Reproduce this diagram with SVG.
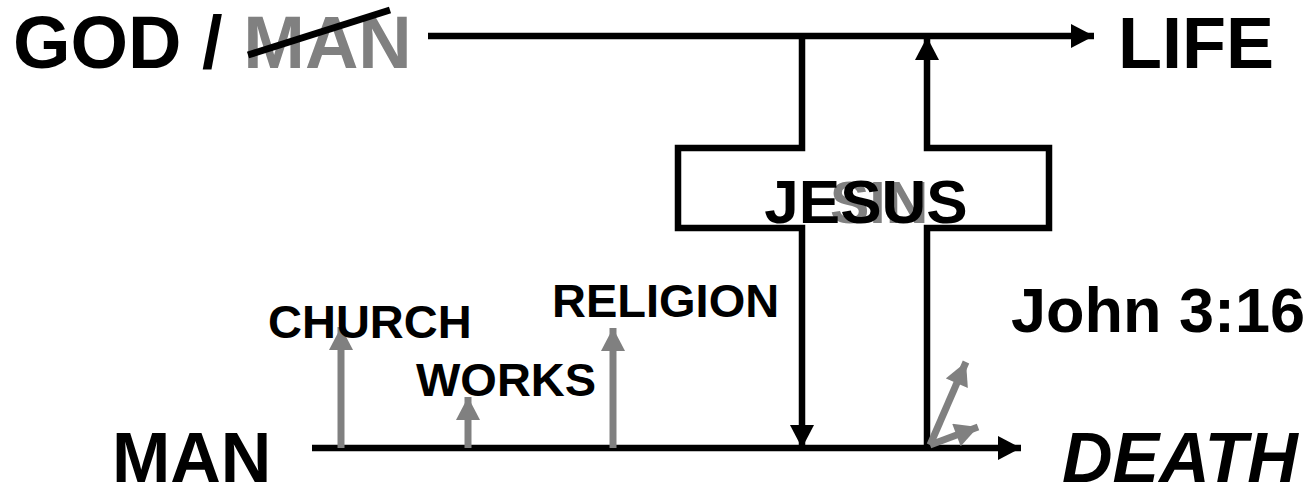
<svg xmlns="http://www.w3.org/2000/svg" width="1316" height="488" viewBox="0 0 1316 488">
<style>
.t{font-family:"Liberation Sans",Arial,sans-serif;font-weight:bold;fill:#000}
.g{fill:#808080}
.blk{stroke:#000;stroke-width:6.5;fill:none;stroke-linejoin:miter;stroke-linecap:butt}
.gry{stroke:#808080;stroke-width:7;fill:none}
</style>
<defs>
<marker id="ab" markerUnits="userSpaceOnUse" markerWidth="24" markerHeight="24" viewBox="0 0 23 24" refX="23" refY="12" orient="auto">
<path d="M0,0 L23,12 L0,24 Z" fill="#000"/>
</marker>
<marker id="ag" markerUnits="userSpaceOnUse" markerWidth="24" markerHeight="24" viewBox="0 0 23 24" refX="23" refY="12" orient="auto">
<path d="M0,0 L23,12 L0,24 Z" fill="#808080"/>
</marker>
</defs>
<rect width="1316" height="488" fill="#fff"/>
<g id="connectors">
<line class="blk" x1="428" y1="36" x2="1094" y2="36" marker-end="url(#ab)"/>
<line class="blk" x1="312" y1="448" x2="1021" y2="448" marker-end="url(#ab)"/>
<path id="cross-left" class="blk" d="M802,36 V148 H678 V228 H802 V448" marker-end="url(#ab)"/>
<path id="cross-right" class="blk" d="M927,448 V228 H1049 V148 H927 V37" marker-end="url(#ab)"/>
<line class="gry" x1="341" y1="448" x2="341" y2="327" marker-end="url(#ag)"/>
<line class="gry" x1="468" y1="448" x2="468" y2="397" marker-end="url(#ag)"/>
<line class="gry" x1="613" y1="448" x2="613" y2="328" marker-end="url(#ag)"/>
<line class="gry" x1="930" y1="445" x2="966" y2="362" marker-end="url(#ag)"/>
<line class="gry" x1="930" y1="445" x2="978" y2="427" marker-end="url(#ag)"/>
</g>
<g id="god-man">
<text class="t" x="13" y="68" font-size="74">GOD / <tspan class="g">MAN</tspan></text>
<line x1="248" y1="55" x2="390" y2="10" stroke="#000" stroke-width="7"/>
</g>
<g id="life"><text class="t" x="1118" y="68" font-size="72">LIFE</text></g>
<g id="man"><text class="t" x="112" y="482" font-size="70">MAN</text></g>
<g id="death"><text class="t" x="1062" y="482" font-size="70" font-style="italic">DEATH</text></g>
<g id="sin"><text class="t g" x="830" y="223" font-size="59">SIN</text></g>
<g id="jesus"><text class="t" x="866" y="223" font-size="62" text-anchor="middle">JESUS</text></g>
<g id="church"><text class="t" x="268" y="338" font-size="47">CHURCH</text></g>
<g id="works"><text class="t" x="416" y="396" font-size="47">WORKS</text></g>
<g id="religion"><text class="t" x="552" y="317" font-size="47">RELIGION</text></g>
<g id="john"><text class="t" x="1011" y="332" font-size="63">John 3:16</text></g>
</svg>
